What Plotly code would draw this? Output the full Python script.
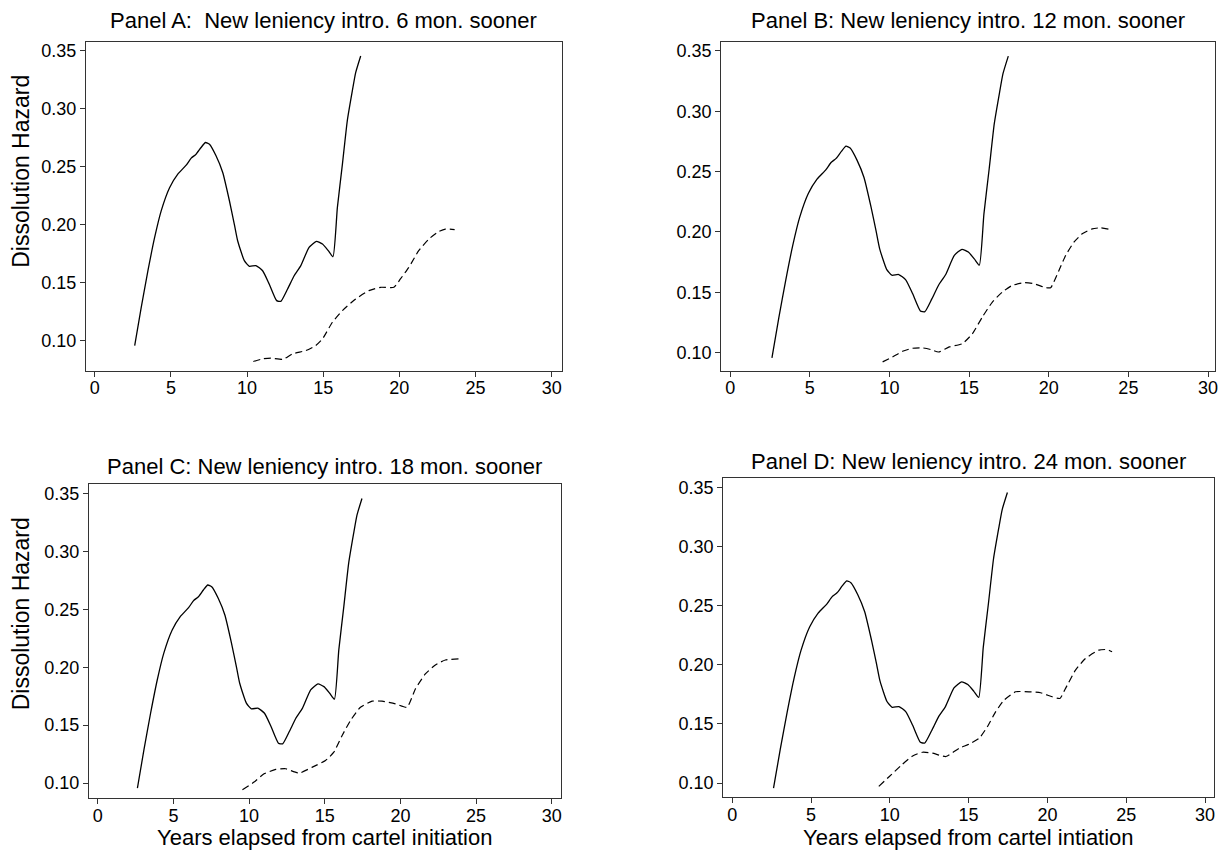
import plotly.graph_objects as go

# ---- data ----
years_solid = [2.62, 3.05, 3.49, 3.93, 4.36, 4.91, 5.45, 6.0, 6.33, 6.65, 6.98, 7.27, 7.53,
               7.96, 8.4, 8.84, 9.16, 9.38, 9.82, 10.15, 10.58, 11.02, 11.45, 11.94, 12.22,
               12.66, 13.09, 13.53, 14.07, 14.55, 14.95, 15.33, 15.64, 15.93, 16.26, 16.58,
               16.91, 17.13, 17.46]
hazard_solid = [0.0957, 0.1287, 0.1603, 0.189, 0.212, 0.232, 0.2437, 0.2514, 0.2575, 0.2609,
                0.2667, 0.271, 0.2695, 0.2595, 0.2451, 0.2207, 0.2006, 0.1862, 0.169, 0.1641,
                0.1647, 0.1603, 0.1489, 0.1345, 0.1339, 0.1445, 0.156, 0.1647, 0.1805, 0.1856,
                0.1833, 0.1776, 0.1724, 0.215, 0.2523, 0.2897, 0.3155, 0.3313, 0.3457]

years_a = [10.41, 11.02, 11.56, 12.37, 12.98, 13.86, 14.51, 14.95, 15.6, 16.26, 17.13, 18.0,
           18.77, 19.64, 20.07, 20.62, 21.27, 21.93, 22.59, 23.02, 23.63]
hazard_a = [0.0819, 0.0842, 0.0848, 0.0839, 0.0885, 0.0914, 0.0957, 0.1014, 0.1158, 0.1259,
            0.1359, 0.1431, 0.146, 0.146, 0.1532, 0.1632, 0.1776, 0.1876, 0.1942, 0.1963, 0.1957]

years_b = [9.57, 10.19, 10.82, 11.45, 12.07, 12.6, 13.08, 13.75, 14.58, 15.21, 15.83, 16.46,
           17.09, 17.71, 18.45, 19.07, 19.8, 20.12, 20.64, 21.06, 21.58, 22.1, 22.73, 23.25, 23.84]
hazard_b = [0.0923, 0.0964, 0.1011, 0.1036, 0.1039, 0.1025, 0.1005, 0.1047, 0.1074, 0.1157,
            0.1295, 0.1419, 0.1502, 0.1557, 0.1579, 0.1571, 0.1538, 0.1538, 0.1681, 0.1805,
            0.1915, 0.1984, 0.2025, 0.2034, 0.202]

years_c = [9.56, 10.33, 10.99, 11.76, 12.42, 13.3, 14.18, 15.05, 15.6, 16.15, 16.7, 17.36,
           18.13, 18.79, 19.67, 20.44, 20.99, 21.65, 22.31, 22.97, 23.85]
hazard_c = [0.0943, 0.1009, 0.108, 0.1118, 0.1124, 0.1086, 0.1138, 0.1195, 0.1267, 0.1411,
            0.154, 0.1655, 0.1707, 0.1707, 0.1684, 0.1655, 0.1813, 0.1942, 0.202, 0.2063, 0.2072]

years_d = [9.3, 9.97, 10.71, 11.45, 12.08, 12.71, 13.56, 14.4, 15.03, 15.67, 16.19, 16.72,
           17.25, 17.98, 18.83, 19.57, 20.3, 20.79, 21.15, 21.78, 22.41, 23.26, 23.78, 24.1]
hazard_d = [0.0972, 0.1056, 0.1149, 0.123, 0.1261, 0.1253, 0.1225, 0.1295, 0.1329, 0.1379,
            0.1478, 0.1604, 0.1702, 0.1772, 0.1772, 0.1764, 0.173, 0.1716, 0.1801, 0.1955,
            0.2053, 0.2124, 0.2129, 0.211]

panel_titles = ["Panel A:  New leniency intro. 6 mon. sooner",
                "Panel B: New leniency intro. 12 mon. sooner",
                "Panel C: New leniency intro. 18 mon. sooner",
                "Panel D: New leniency intro. 24 mon. sooner"]
x_titles = ["Years elapsed from cartel initiation", "Years elapsed from cartel intiation"]
y_title = "Dissolution Hazard"
x_ticks = [0, 5, 10, 15, 20, 25, 30]
y_ticks = [0.10, 0.15, 0.20, 0.25, 0.30, 0.35]

# The page body has an 8px default margin, so the figure is drawn 8px in from the
# window corner; window-pixel positions are converted to figure pixels below.
OFF = 8
W, H = 1227 - OFF, 852 - OFF


def fx(px):
    return (px - OFF) / W


def fy(py):
    return 1 - (py - OFF) / H


# frame boxes in window pixels: left, right, top, bottom
boxes = [(86, 563, 41, 370), (723, 1218, 41, 370), (89, 562, 484, 798), (725, 1217, 478, 797)]
x_ranges = [[-0.59, 30.655], [-0.564, 30.44], [-0.593, 30.59], [-0.57, 30.57]]
y_ranges = [[0.0741, 0.3578], [0.0851, 0.3574], [0.0871, 0.3578], [0.0882, 0.3576]]
dashed = [(years_a, hazard_a), (years_b, hazard_b), (years_c, hazard_c), (years_d, hazard_d)]

FONT = "Liberation Sans, Arial, Helvetica, sans-serif"
fig = go.Figure()
layout = dict(width=W, height=H, margin=dict(l=0, r=0, t=0, b=0),
              paper_bgcolor="white", plot_bgcolor="white", showlegend=False,
              font=dict(family=FONT, color="black"))
annotations = []
for i in range(4):
    sfx = "" if i == 0 else str(i + 1)
    xa, ya = "x" + sfx, "y" + sfx
    fig.add_trace(go.Scatter(x=years_solid, y=hazard_solid, mode="lines", xaxis=xa, yaxis=ya,
                             line=dict(color="black", width=1.3, shape="spline", smoothing=0.5)))
    dx, dy = dashed[i]
    fig.add_trace(go.Scatter(x=dx, y=dy, mode="lines", xaxis=xa, yaxis=ya,
                             line=dict(color="black", width=1.2, dash="7px,4px",
                                       shape="spline", smoothing=0.5)))
    l, r, t, b = boxes[i]
    axis_common = dict(showline=True, mirror=True, linecolor="#333333", linewidth=1,
                       showgrid=False, zeroline=False, ticks="outside", ticklen=5,
                       tickcolor="#333333", tickwidth=1, tickfont=dict(size=18, family=FONT))
    layout["xaxis" + sfx] = dict(domain=[fx(l), fx(r)], range=x_ranges[i], anchor=ya,
                                 tickvals=x_ticks, ticktext=[str(v) for v in x_ticks],
                                 ticklabelstandoff=-4, **axis_common)
    layout["yaxis" + sfx] = dict(domain=[fy(b), fy(t)], range=y_ranges[i], anchor=xa,
                                 tickvals=y_ticks, ticktext=["%.2f" % v for v in y_ticks],
                                 **axis_common)

title_y = [20, 20, 466, 461]
for i in range(4):
    l, r, t, b = boxes[i]
    annotations.append(dict(text=panel_titles[i], x=fx((l + r) / 2), y=fy(title_y[i]),
                            xref="paper", yref="paper", showarrow=False, xanchor="center",
                            yanchor="middle", font=dict(size=22, family=FONT)))
for yc in (170, 613):
    annotations.append(dict(text=y_title, x=fx(21), y=fy(yc), xref="paper", yref="paper",
                            showarrow=False, textangle=-90, xanchor="center", yanchor="middle",
                            font=dict(size=23, family=FONT)))
for k, i in enumerate([2, 3]):
    l, r, t, b = boxes[i]
    annotations.append(dict(text=x_titles[k], x=fx((l + r) / 2), y=fy(837),
                            xref="paper", yref="paper", showarrow=False, xanchor="center",
                            yanchor="middle", font=dict(size=22, family=FONT)))
layout["annotations"] = annotations
fig.update_layout(**layout)
fig.write_html("out.html")
